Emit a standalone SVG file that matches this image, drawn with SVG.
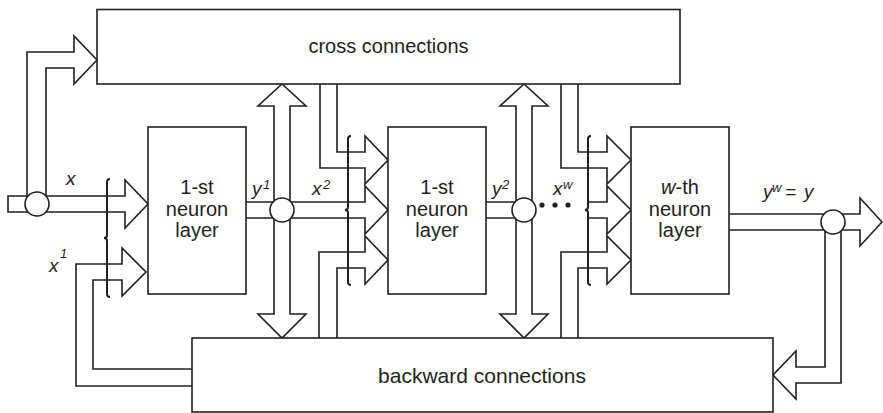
<svg xmlns="http://www.w3.org/2000/svg" width="883" height="413" viewBox="0 0 883 413">
<style>
.bx{fill:#fff;stroke:#231f20;stroke-width:1.6}
.ar{fill:#fff;stroke:#231f20;stroke-width:1.6;stroke-linejoin:miter}
.ln{fill:none;stroke:#231f20;stroke-width:1.6}
.br{fill:none;stroke:#231f20;stroke-width:2}
.jn{fill:#fff;stroke:#231f20;stroke-width:1.6}
.dot{fill:#231f20}
.t{font-family:"Liberation Sans",Arial,sans-serif;font-size:20px;fill:#231f20;text-anchor:middle}
.lbl{font-family:"Liberation Sans",Arial,sans-serif;font-size:19px;font-style:italic;fill:#231f20}
.sup{font-size:13px}
</style>
<rect width="883" height="413" fill="#fff"/>
<g id="connectors">
  <path class="ar" d="M8,196 L125,196 L125,180 L148,204 L125,228 L125,212 L8,212 Z"/>
  <path class="ar" d="M27,204 L27,52 L74,52 L74,36 L97,60 L74,84 L74,68 L46,68 L46,204"/>
  <path class="ar" d="M192,386 L76,386 L76,264 L122,264 L122,248 L146,272 L122,296 L122,280 L93,280 L93,369 L192,369"/>
  <path class="ar" d="M246,202 L365,202 L365,186 L388,210 L365,234 L365,218 L246,218"/>
  <path class="ar" d="M274,106 L258,106 L282,84 L306,106 L290,106 L290,314 L306,314 L282,338 L258,314 L274,314 Z"/>
  <path class="ar" d="M320,84 L320,168 L365,168 L365,184 L388,160 L365,136 L365,152 L337,152 L337,84"/>
  <path class="ar" d="M319,338 L319,252 L365,252 L365,236 L388,260 L365,284 L365,268 L337,268 L337,338"/>
  <path class="ar" d="M486,202 L524,202 L524,218 L486,218"/>
  <path class="ar" d="M516,106 L500,106 L524,84 L548,106 L532,106 L532,314 L548,314 L524,338 L500,314 L516,314 Z"/>
  <path class="ar" d="M587,202 L607,202 L607,186 L631,210 L607,234 L607,218 L587,218"/>
  <path class="ar" d="M561,84 L561,168 L607,168 L607,184 L631,160 L607,136 L607,152 L578,152 L578,84"/>
  <path class="ar" d="M561,338 L561,252 L607,252 L607,236 L631,260 L607,284 L607,268 L578,268 L578,338"/>
  <path class="ar" d="M729,214 L860,214 L860,198 L882,222 L860,246 L860,230 L729,230"/>
  <path class="ar" d="M825,222 L825,367 L796,367 L796,351 L773,375 L796,399 L796,383 L841,383 L841,222"/>
  <circle class="jn" cx="37" cy="204" r="12"/>
  <circle class="jn" cx="282" cy="210" r="12"/>
  <circle class="jn" cx="524" cy="210" r="12"/>
  <circle class="jn" cx="833" cy="222" r="12"/>
  <circle class="dot" cx="542" cy="205" r="2.6"/>
  <circle class="dot" cx="555" cy="205" r="2.6"/>
  <circle class="dot" cx="568" cy="205" r="2.6"/>
  <path class="br" d="M110,179 Q107,179 107,182 L107,235 Q107,238 104,238 Q107,238 107,241 L107,294 Q107,297 110,297"/>
  <path class="br" d="M351,136 Q348,136 348,139 L348,207 Q348,210 345,210 Q348,210 348,213 L348,282 Q348,285 351,285"/>
  <path class="br" d="M591,136 Q588,136 588,139 L588,207 Q588,210 585,210 Q588,210 588,213 L588,282 Q588,285 591,285"/>
</g>
<g id="cross">
  <rect class="bx" x="97" y="9.5" width="583" height="74.5"/>
  <text class="t" x="388.5" y="53">cross connections</text>
</g>
<g id="backward">
  <rect class="bx" x="192" y="338" width="581" height="74"/>
  <text class="t" x="482" y="383" style="font-size:21px">backward connections</text>
</g>
<g id="layer1">
  <rect class="bx" x="148" y="127" width="98" height="167"/>
  <text class="t" x="197" y="194">1-st</text>
  <text class="t" x="197" y="216">neuron</text>
  <text class="t" x="197" y="237">layer</text>
</g>
<g id="layer2">
  <rect class="bx" x="388" y="127" width="98" height="167"/>
  <text class="t" x="437" y="194">1-st</text>
  <text class="t" x="437" y="216">neuron</text>
  <text class="t" x="437" y="237">layer</text>
</g>
<g id="layerw">
  <rect class="bx" x="631" y="127" width="98" height="167"/>
  <text class="t" x="680" y="194"><tspan font-style="italic">w</tspan>-th</text>
  <text class="t" x="680" y="216">neuron</text>
  <text class="t" x="680" y="237">layer</text>
</g>
<g id="labels">
  <text class="lbl" x="66" y="185">x</text>
  <text class="lbl" x="49" y="272">x</text><text class="lbl sup" x="60" y="258">1</text>
  <text class="lbl" x="252" y="195">y</text><text class="lbl sup" x="263" y="189">1</text>
  <text class="lbl" x="312" y="195">x</text><text class="lbl sup" x="323" y="189">2</text>
  <text class="lbl" x="492" y="195">y</text><text class="lbl sup" x="502" y="189">2</text>
  <text class="lbl" x="553" y="195">x</text><text class="lbl sup" x="563" y="189">w</text>
  <text class="lbl" x="763" y="198">y</text><text class="lbl sup" x="772" y="192">w</text>
  <text class="lbl" x="785" y="198" font-style="normal">=</text>
  <text class="lbl" x="804" y="198">y</text>
</g>
</svg>
